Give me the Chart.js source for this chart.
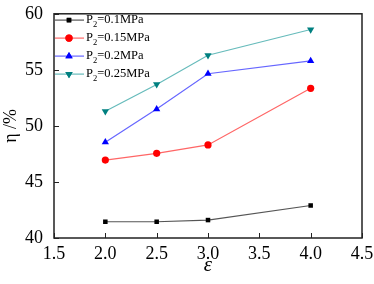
<!DOCTYPE html>
<html>
<head>
<meta charset="utf-8">
<script src="https://cdn.jsdelivr.net/npm/chart.js@4"></script>
<style>
  html, body { margin:0; padding:0; background:#fff; }
  #wrap { width:374px; height:284px; }
</style>
</head>
<body>
<div id="wrap"><canvas id="chart-eta"></canvas></div>
<script>
// datos
const epsilon   = [2.0, 2.5, 3.0, 4.0];
const eta01     = [41.45, 41.45, 41.6, 42.9];
const eta015    = [46.95, 47.55, 48.3, 53.35];
const eta02     = [48.55, 51.5, 54.65, 55.8];
const eta025    = [51.3, 53.7, 56.3, 58.6];
const etiquetas = ['P₂=0.1MPa', 'P₂=0.15MPa', 'P₂=0.2MPa', 'P₂=0.25MPa'];
const xTicks    = [1.5, 2.0, 2.5, 3.0, 3.5, 4.0, 4.5];
const yTicks    = [40, 45, 50, 55, 60];

const FUENTE = 'Liberation Serif';
Chart.defaults.font.family = FUENTE;

function serie(label, valores, linea, punto, estilo, radio, giro) {
    return {
        label: label,
        data: epsilon.map((x, i) => ({ x: x, y: valores[i] })),
        borderColor: linea,
        backgroundColor: punto,
        pointBackgroundColor: punto,
        pointBorderColor: punto,
        pointStyle: estilo,
        pointRadius: radio,
        pointRotation: giro || 0,
        pointBorderWidth: 0,
        borderWidth: 1.2,
        tension: 0
    };
}

// marcas hacia dentro, marco y leyenda con subindice
const marcoPlugin = {
    id: 'marco',
    afterDraw(chart) {
        const ctx = chart.ctx;
        const a = chart.chartArea;
        const sx = chart.scales.x, sy = chart.scales.y;
        ctx.save();
        ctx.strokeStyle = '#222';
        ctx.lineWidth = 1.5;
        ctx.strokeRect(a.left, a.top, a.right - a.left, a.bottom - a.top);
        ctx.lineWidth = 1;
        xTicks.forEach(v => {
            const px = Math.round(sx.getPixelForValue(v)) + 0.5;
            ctx.beginPath(); ctx.moveTo(px, a.bottom); ctx.lineTo(px, a.bottom - 5); ctx.stroke();
        });
        yTicks.forEach(v => {
            const py = Math.round(sy.getPixelForValue(v)) + 0.5;
            ctx.beginPath(); ctx.moveTo(a.left, py); ctx.lineTo(a.left + 5, py); ctx.stroke();
        });

        // leyenda
        chart.data.datasets.forEach((ds, i) => {
            const y = a.top + 6.3 + i * 18;
            const x0 = a.left + 1, x1 = a.left + 30;
            ctx.strokeStyle = ds.borderColor;
            ctx.lineWidth = 1.2;
            ctx.beginPath(); ctx.moveTo(x0, y); ctx.lineTo(x1, y); ctx.stroke();
            ctx.fillStyle = ds.pointBackgroundColor;
            Chart.helpers.drawPoint(ctx, {
                pointStyle: ds.pointStyle, radius: ds.pointRadius, borderWidth: 0, rotation: ds.pointRotation
            }, a.left + 15, y);
            ctx.fill();
            const partes = ds.label.split('₂');
            ctx.fillStyle = '#000';
            ctx.textBaseline = 'middle';
            ctx.font = '12.5px "' + FUENTE + '"';
            let tx = x1 + 2;
            ctx.fillText(partes[0], tx, y);
            tx += ctx.measureText(partes[0]).width;
            ctx.font = '8.5px "' + FUENTE + '"';
            ctx.fillText('2', tx, y + 5);
            tx += ctx.measureText('2').width;
            ctx.font = '12.5px "' + FUENTE + '"';
            ctx.fillText(partes[1], tx, y);
        });
        ctx.restore();
    }
};

new Chart(document.getElementById('chart-eta'), {
    type: 'line',
    data: {
        datasets: [
            serie(etiquetas[0], eta01,  '#555555', '#000000', 'rect', 3.2),
            serie(etiquetas[1], eta015, '#ff6666', '#ff0000', 'circle', 3.6),
            serie(etiquetas[2], eta02,  '#6666ff', '#0000ff', 'triangle', 4.2),
            serie(etiquetas[3], eta025, '#66bbbb', '#008080', 'triangle', 4.2, 180)
        ]
    },
    options: {
        responsive: true,
        maintainAspectRatio: false,
        animation: false,
        devicePixelRatio: 1,
        layout: { padding: { top: 12, right: 12, left: 0, bottom: 0 } },
        plugins: { legend: { display: false }, tooltip: { enabled: false } },
        datasets: { line: { clip: false } },
        scales: {
            x: {
                type: 'linear', min: 1.5, max: 4.5,
                afterBuildTicks: s => { s.ticks = xTicks.map(v => ({ value: v })); },
                afterFit: s => { s.height = 46; },
                grid: { display: false },
                border: { display: false },
                ticks: {
                    color: '#000', padding: -3,
                    font: { family: FUENTE, size: 18 },
                    callback: v => v.toFixed(1)
                },
                title: {
                    display: true, text: 'ε', color: '#000', padding: { top: 0, bottom: 6 },
                    font: { family: FUENTE, size: 21, style: 'italic' }
                }
            },
            y: {
                type: 'linear', min: 40, max: 60,
                afterBuildTicks: s => { s.ticks = yTicks.map(v => ({ value: v })); },
                afterFit: s => { s.width = 54; },
                grid: { display: false },
                border: { display: false },
                ticks: {
                    color: '#000', padding: 3,
                    font: { family: FUENTE, size: 18 }
                },
                title: {
                    display: true, text: 'η /%', color: '#000', padding: { top: 0, bottom: 0 },
                    font: { family: FUENTE, size: 18 }
                }
            }
        }
    },
    plugins: [marcoPlugin]
});
</script>
</body>
</html>
